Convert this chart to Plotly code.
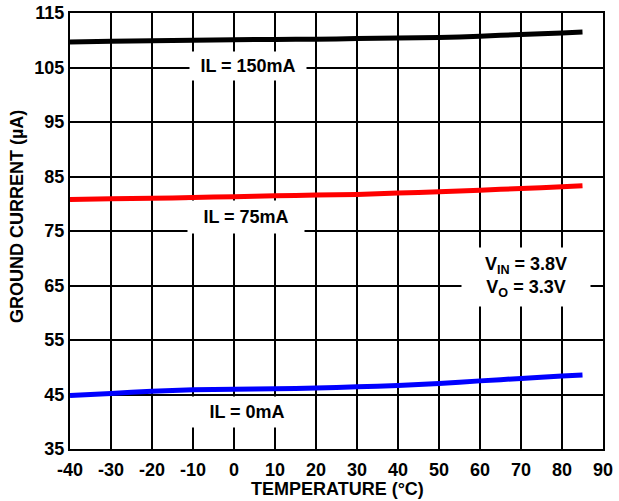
import plotly.graph_objects as go

temps = [-40, -30, -20, -10, 0, 10, 20, 30, 40, 50, 60, 70, 80, 85]
il_150 = [109.7, 109.8, 109.9, 110.0, 110.1, 110.15, 110.2, 110.3, 110.4, 110.5, 110.75, 111.05, 111.35, 111.5]
il_75 = [80.8, 80.9, 81.0, 81.15, 81.3, 81.45, 81.6, 81.7, 81.95, 82.2, 82.5, 82.8, 83.1, 83.3]
il_0 = [44.8, 45.2, 45.6, 45.85, 45.95, 46.05, 46.2, 46.4, 46.65, 47.0, 47.5, 47.95, 48.4, 48.6]

x_ticks = list(range(-40, 91, 10))
y_ticks = list(range(35, 116, 10))

FONT = "Liberation Sans, Arial, sans-serif"

fig = go.Figure()
for ys, col in [(il_150, "#000000"), (il_75, "#ff0000"), (il_0, "#0000ff")]:
    fig.add_trace(go.Scatter(x=temps, y=ys, mode="lines",
                             line=dict(color=col, width=5, shape="spline", smoothing=0.6),
                             showlegend=False, hoverinfo="skip"))

def label(text, x, y, w, h):
    fig.add_annotation(x=x, y=y, xref="x", yref="y", text=text, showarrow=False,
                       bgcolor="white", width=w, height=h,
                       font=dict(family=FONT, size=18, color="black", weight="bold"))

label("IL = 150mA", 3.4, 105.3, 114, 26)
label("IL = 75mA", 2.9, 77.6, 114, 30)
label("IL = 0mA", 3.2, 41.8, 122, 28)
label("V<sub>IN</sub> = 3.8V<br>V<sub>O</sub> = 3.3V", 71.2, 66.6, 126, 56)

fig.add_annotation(x=0, y=0.532, xref="paper", yref="paper", xshift=-53,
                   xanchor="center", yanchor="middle",
                   text="GROUND CURRENT (µA)", textangle=-90, showarrow=False,
                   font=dict(family=FONT, size=18, color="black", weight="bold"))
fig.add_annotation(x=0.501, y=0, xref="paper", yref="paper", yshift=-40,
                   xanchor="center", yanchor="middle",
                   text="TEMPERATURE (°C)", showarrow=False,
                   font=dict(family=FONT, size=18, color="black", weight="bold"))

axis_common = dict(showgrid=True, gridcolor="black", gridwidth=2,
                   showline=True, linecolor="black", linewidth=2, mirror=True,
                   zeroline=False, ticks="", automargin=False,
                   ticklabeloverflow="allow",
                   tickfont=dict(family=FONT, size=18, color="black", weight="bold"))

fig.update_xaxes(range=[-40, 90], tickvals=x_ticks, ticktext=[str(v) for v in x_ticks],
                 ticklabelstandoff=3, **axis_common)
fig.update_yaxes(range=[35, 115], tickvals=y_ticks, ticktext=[str(v) for v in y_ticks], **axis_common)

fig.update_layout(width=619, height=501, margin=dict(l=70, r=16, t=13, b=52),
                  paper_bgcolor="white", plot_bgcolor="white",
                  font=dict(family=FONT, color="black"))

# remove the page's default 8px body margin so the figure sits at the window's corner
fig.write_html("out.html", config={"displayModeBar": False},
               post_script="document.body.style.margin='0';")
